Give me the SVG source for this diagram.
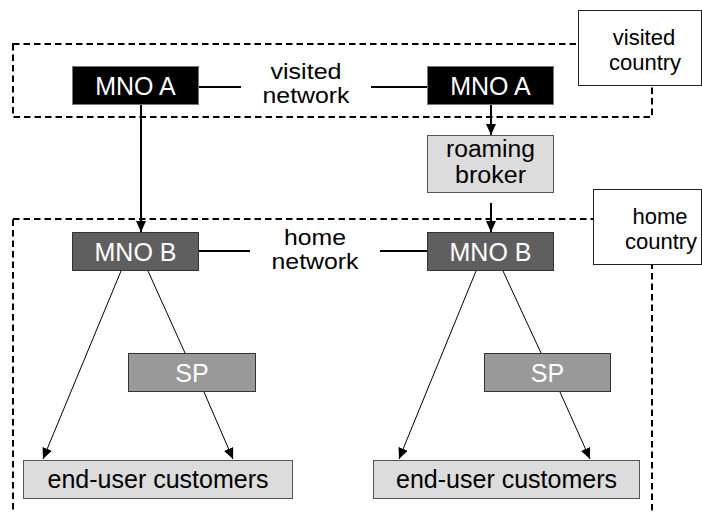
<svg xmlns="http://www.w3.org/2000/svg" width="702" height="512" viewBox="0 0 702 512">
<style>
text{font-family:"Liberation Sans",Arial,sans-serif;font-size:25px;text-anchor:middle;fill:#000}
text.s{font-size:22px}
text.m{font-size:23px}
.w{fill:#fff}
.zone{fill:none;stroke:#000;stroke-width:2;stroke-dasharray:6.5 4}
.country{fill:#fff;stroke:#222;stroke-width:1}
.mnoa{fill:#000;stroke:#777;stroke-width:1}
.mnob{fill:#5f5f5f;stroke:#333;stroke-width:1}
.sp{fill:#999;stroke:#333;stroke-width:1}
.light{fill:#dcdcdc;stroke:#555;stroke-width:1}
.link{stroke:#000;stroke-width:2;fill:none}
.thin{stroke:#000;stroke-width:1;fill:none}
</style>
<defs>
<marker id="ah" markerUnits="userSpaceOnUse" markerWidth="11" markerHeight="10" refX="11" refY="5" orient="auto">
<path d="M0,0 L11,5 L0,10 z" fill="#000"/>
</marker>
</defs>
<g id="zones">
<rect class="zone" x="13" y="44" width="639" height="73"/>
<rect class="zone" x="13" y="219" width="639" height="320"/>
</g>
<g id="visited-country">
<rect class="country" x="578.5" y="10.5" width="123" height="75"/>
<text class="s" x="644" y="45">visited</text>
<text class="s" x="645" y="70">country</text>
</g>
<g id="home-country">
<rect class="country" x="593.5" y="189.5" width="108" height="75"/>
<text class="s" x="660" y="224">home</text>
<text class="s" x="661" y="249">country</text>
</g>
<g id="connectors">
<line class="link" x1="199" y1="87" x2="241" y2="87"/>
<line class="link" x1="371" y1="87" x2="427" y2="87"/>
<line class="link" x1="199" y1="251" x2="250" y2="251"/>
<line class="link" x1="380" y1="251" x2="427" y2="251"/>
<line class="link" x1="141" y1="105" x2="141" y2="232" marker-end="url(#ah)"/>
<line class="link" x1="491" y1="105" x2="491" y2="135" marker-end="url(#ah)"/>
<line class="link" x1="491" y1="203" x2="491" y2="232" marker-end="url(#ah)"/>
<line class="thin" x1="121" y1="271" x2="43" y2="459" marker-end="url(#ah)"/>
<line class="thin" x1="148" y1="271" x2="185" y2="353"/>
<line class="thin" x1="204" y1="392" x2="233" y2="459" marker-end="url(#ah)"/>
<line class="thin" x1="476" y1="271" x2="399" y2="459" marker-end="url(#ah)"/>
<line class="thin" x1="503" y1="271" x2="541" y2="353"/>
<line class="thin" x1="560" y1="392" x2="590" y2="459" marker-end="url(#ah)"/>
</g>
<g id="visited-network">
<text class="s" x="306" y="78.5" textLength="71" lengthAdjust="spacingAndGlyphs">visited</text>
<text class="s" x="306" y="103" textLength="87" lengthAdjust="spacingAndGlyphs">network</text>
</g>
<g id="home-network">
<text class="s" x="315" y="244.5" textLength="62" lengthAdjust="spacingAndGlyphs">home</text>
<text class="s" x="315" y="269" textLength="87" lengthAdjust="spacingAndGlyphs">network</text>
</g>
<g id="mno-a-left">
<rect class="mnoa" x="72.5" y="66.5" width="126" height="38"/>
<text class="w" x="135.5" y="94.5">MNO A</text>
</g>
<g id="mno-a-right">
<rect class="mnoa" x="427.5" y="66.5" width="126" height="38"/>
<text class="w" x="490.5" y="94.5">MNO A</text>
</g>
<g id="roaming-broker">
<rect class="light" x="427.5" y="135.5" width="126" height="57"/>
<text class="m" x="490.5" y="156.5" textLength="89" lengthAdjust="spacingAndGlyphs">roaming</text>
<text class="m" x="490.5" y="182.5" textLength="71" lengthAdjust="spacingAndGlyphs">broker</text>
</g>
<g id="mno-b-left">
<rect class="mnob" x="72.5" y="232.5" width="126" height="38"/>
<text class="w" x="135.5" y="261">MNO B</text>
</g>
<g id="mno-b-right">
<rect class="mnob" x="427.5" y="232.5" width="126" height="38"/>
<text class="w" x="490.5" y="261">MNO B</text>
</g>
<g id="sp-left">
<rect class="sp" x="128.5" y="353.5" width="127" height="38"/>
<text class="w" x="192" y="381.5">SP</text>
</g>
<g id="sp-right">
<rect class="sp" x="484.5" y="353.5" width="126" height="38"/>
<text class="w" x="547.5" y="381.5">SP</text>
</g>
<g id="end-user-left">
<rect class="light" x="23.5" y="460.5" width="269" height="38"/>
<text x="158" y="488">end-user customers</text>
</g>
<g id="end-user-right">
<rect class="light" x="373.5" y="460.5" width="266" height="38"/>
<text x="506.5" y="488">end-user customers</text>
</g>
</svg>
